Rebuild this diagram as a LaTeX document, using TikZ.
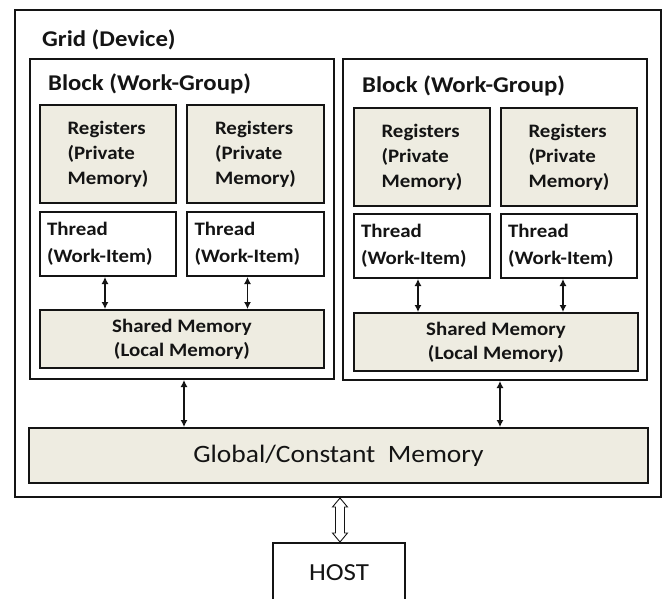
\documentclass[tikz,border=0pt]{standalone}
\usepackage{fontspec}
\setmainfont{Carlito}[FakeStretch=1.1]
\usetikzlibrary{arrows.meta,calc}
\definecolor{memfill}{RGB}{238,236,225}
\definecolor{ink}{RGB}{20,20,20}
\begin{document}
\begin{tikzpicture}[x=1pt,y=-1pt,
  box/.style={draw=ink, line width=2pt, rectangle, inner sep=0pt, anchor=north west, text=ink},
  mem/.style={box, fill=memfill},
  lbl/.style={anchor=base west, inner sep=0pt, text=ink, font=\fontsize{22.5}{27}\selectfont\bfseries},
  regbox/.style={mem, minimum width=136pt, minimum height=98pt, align=left, font=\fontsize{19}{25}\selectfont\bfseries},
  thrbox/.style={box, fill=white, minimum width=136pt, minimum height=64pt, inner xsep=7pt, text width=122pt, align=left, font=\fontsize{19}{27}\selectfont\bfseries},
  shbox/.style={mem, minimum width=284pt, minimum height=58pt, align=center, font=\fontsize{19}{24}\selectfont\bfseries},
  tip/.tip={Latex[length=7pt,width=7pt]},
  link/.style={draw=ink, line width=1.2pt, tip-tip},
  hollow/.style={draw=ink, line width=0.9pt, fill=white}
]
\useasboundingbox (0,0) rectangle (665,598);
\clip (0,0) rectangle (665,598);
\fill[white] (0,0) rectangle (665,598);

% grid
\node[box, minimum width=646pt, minimum height=487pt] (grid) at (14,9) {};
\node[lbl] (gridlbl) at (42,46) {Grid (Device)};

% blocks
\node[box, minimum width=304pt, minimum height=320pt] (blkL) at (29,58) {};
\node[box, minimum width=304pt, minimum height=321pt] (blkR) at (342,58) {};
\node[lbl] (blkLlbl) at (48,90) {Block (Work-Group)};
\node[lbl] (blkRlbl) at (362,92) {Block (Work-Group)};

% registers
\node[regbox] (regL1) at (39,104) {Registers\\(Private\\Memory)};
\node[regbox, minimum width=137pt] (regL2) at (186,104) {Registers\\(Private\\Memory)};
\node[regbox] (regR1) at (353,107) {Registers\\(Private\\Memory)};
\node[regbox] (regR2) at (500,107) {Registers\\(Private\\Memory)};

% threads
\node[thrbox] (thL1) at (39,211) {Thread\\(Work-Item)};
\node[thrbox, minimum width=137pt] (thL2) at (186,211) {Thread\\(Work-Item)};
\node[thrbox] (thR1) at (353,213) {Thread\\(Work-Item)};
\node[thrbox] (thR2) at (500,213) {Thread\\(Work-Item)};

% shared memory
\node[shbox] (shL) at (39,309) {Shared Memory\\(Local Memory)};
\node[shbox] (shR) at (353,312) {Shared Memory\\(Local Memory)};

% global memory
\node[mem, minimum width=619pt, minimum height=55pt, font=\fontsize{25}{30}\selectfont] (glob) at (28,427) {Global/Constant\ \ Memory};

% host
\node[box, fill=white, minimum width=132pt, minimum height=60pt, font=\fontsize{24.5}{29}\selectfont] (host) at (272,542) {HOST};

% thread <-> shared arrows
\path ([xshift=-3pt]thL1.south) coordinate (aL1);
\path ([xshift=-8pt]thL2.south) coordinate (aL2);
\path ([xshift=-4pt]thR1.south) coordinate (aR1);
\path ([xshift=-6pt]thR2.south) coordinate (aR2);
\draw[link] (aL1) -- (aL1 |- shL.north);
\draw[link] (aL2) -- (aL2 |- shL.north);
\draw[link] (aR1) -- (aR1 |- shR.north);
\draw[link] (aR2) -- (aR2 |- shR.north);

% block <-> global arrows
\path ([xshift=2pt]blkL.south) coordinate (bL);
\path ([xshift=5pt]blkR.south) coordinate (bR);
\draw[link] (bL) -- (bL |- glob.north);
\draw[link] (bR) -- (bR |- glob.north);

% hollow double arrow grid <-> host
\path ([xshift=1pt]host.north |- grid.south) coordinate (hT);
\path ([xshift=1pt]host.north) coordinate (hB);
\draw[hollow] (hT) -- ++(7.5,9) -- ++(-3,0) -- ($(hB)+(4.5,-9)$) -- ++(3,0) -- (hB)
  -- ++(-7.5,-9) -- ++(3,0) -- ($(hT)+(-4.5,9)$) -- ++(-3,0) -- cycle;
\end{tikzpicture}
\end{document}
